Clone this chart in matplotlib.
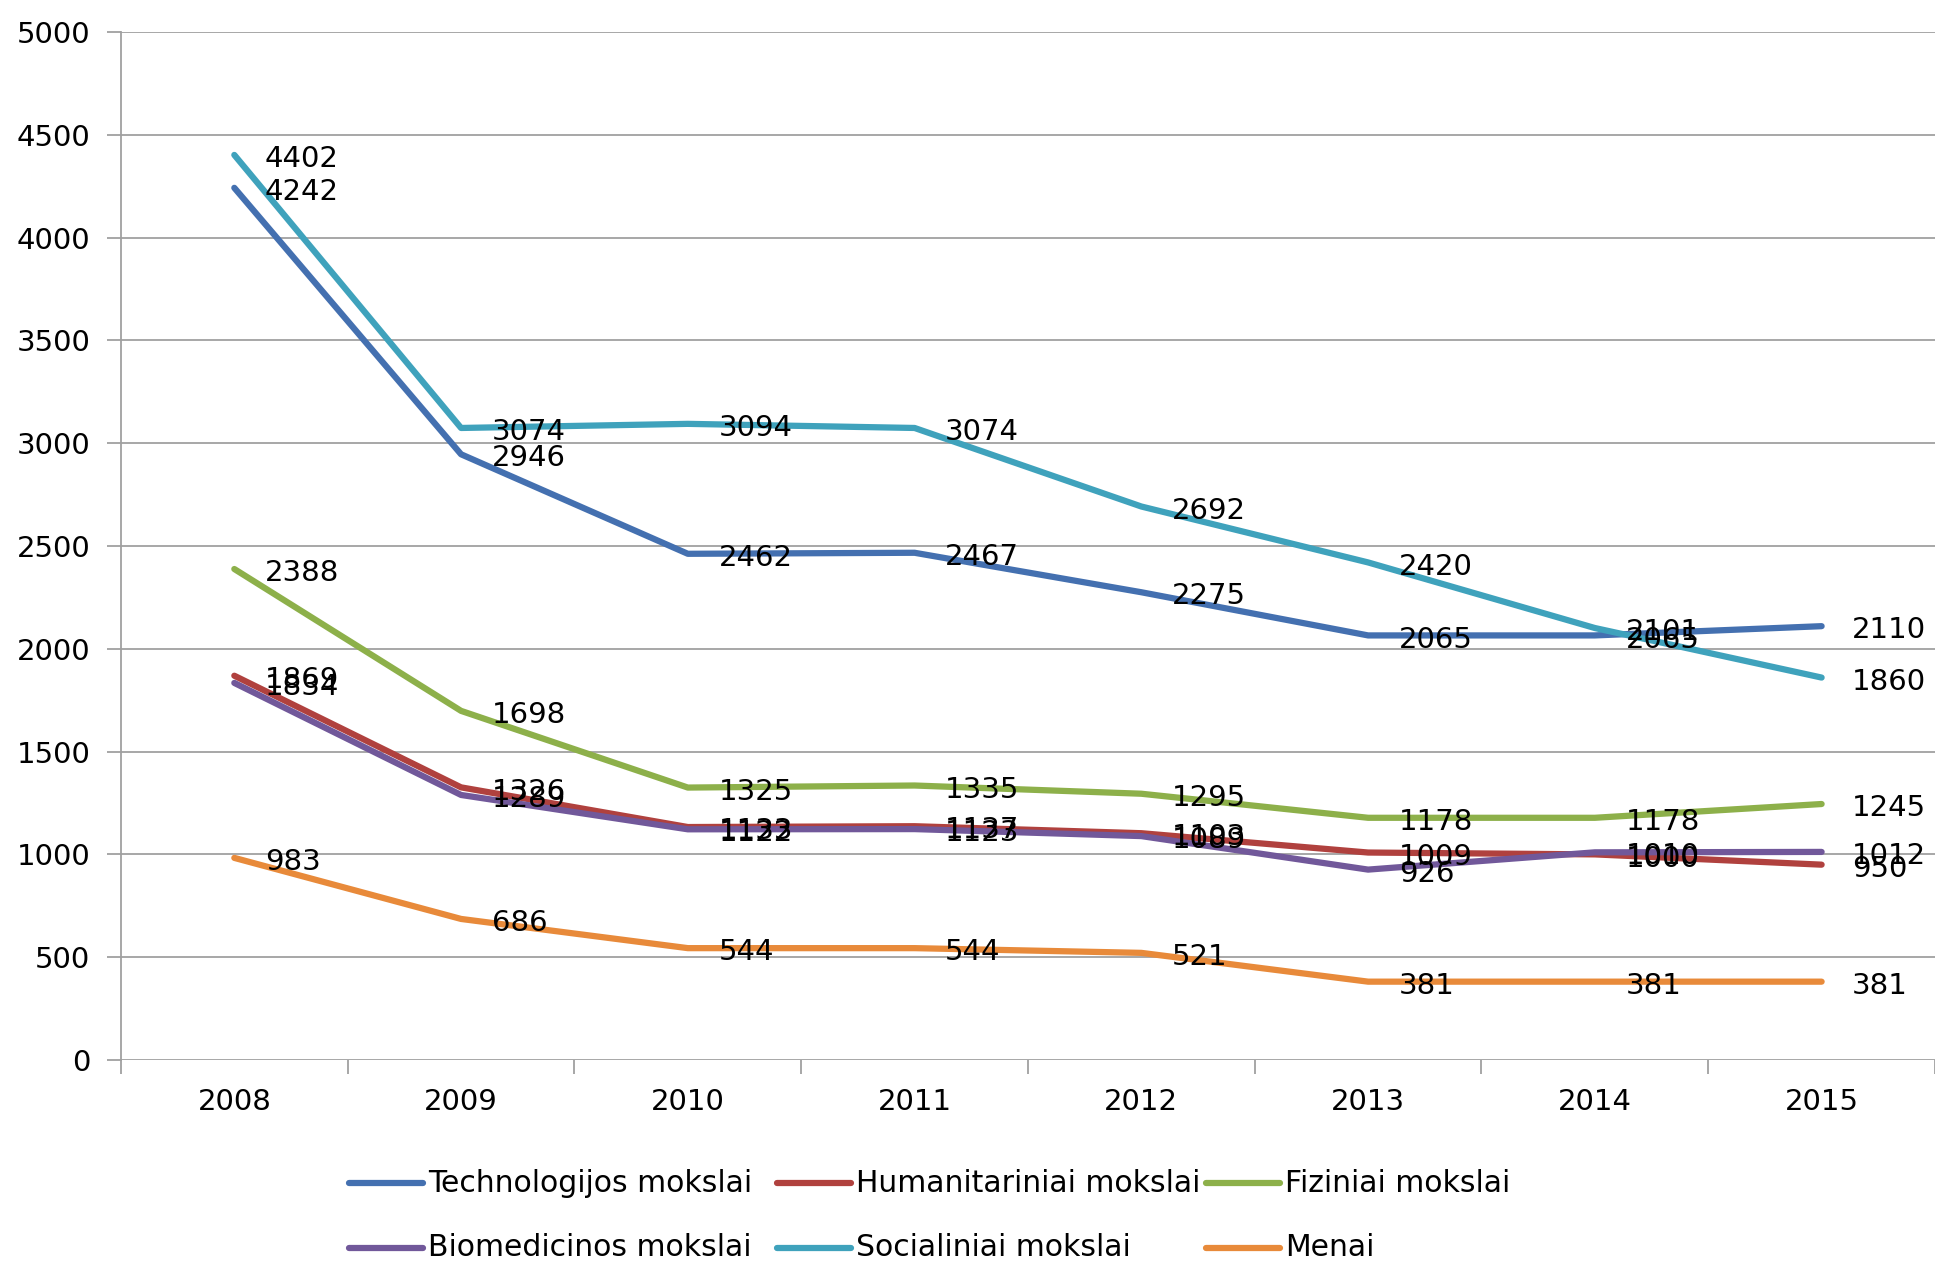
import numpy as np
import matplotlib.pyplot as plt
from matplotlib.lines import Line2D

# Metai ir serijos
metai = ['2008', '2009', '2010', '2011', '2012', '2013', '2014', '2015']
technologijos = [4242, 2946, 2462, 2467, 2275, 2065, 2065, 2110]
humanitariniai = [1869, 1326, 1133, 1137, 1103, 1009, 1000, 950]
fiziniai = [2388, 1698, 1325, 1335, 1295, 1178, 1178, 1245]
biomedicinos = [1834, 1289, 1122, 1123, 1089, 926, 1010, 1012]
socialiniai = [4402, 3074, 3094, 3074, 2692, 2420, 2101, 1860]
menai = [983, 686, 544, 544, 521, 381, 381, 381]

serijos = [
    ('Technologijos mokslai', technologijos, '#4470B0'),
    ('Humanitariniai mokslai', humanitariniai, '#B0413E'),
    ('Fiziniai mokslai', fiziniai, '#8DB04A'),
    ('Biomedicinos mokslai', biomedicinos, '#71589A'),
    ('Socialiniai mokslai', socialiniai, '#3FA2BC'),
    ('Menai', menai, '#E88A3A'),
]

fig = plt.figure(figsize=(19.35, 12.64), dpi=100)
ax = fig.add_axes([0.0625, 0.1614, 0.9375, 0.8133])
x = np.arange(len(metai))

for i in range(0, 5001, 500):
    ax.axhline(i, color='#A0A0A0', lw=1.3, zorder=0)

for nm, vals, col in serijos:
    ax.plot(x, vals, color=col, lw=4.5, solid_capstyle='round', zorder=2)
    for xi, v in zip(x, vals):
        ax.annotate(str(v), (xi, v), xytext=(22, -3), textcoords='offset points',
                    fontsize=21, va='center', ha='left', zorder=3)

ax.set_xlim(-0.5, 7.5)
ax.set_ylim(0, 5000)
ax.set_yticks(range(0, 5001, 500))
ax.set_yticklabels([str(v) for v in range(0, 5001, 500)], fontsize=21)
ax.set_xticks(x)
ax.set_xticklabels(metai, fontsize=21)
ax.set_xticks(np.arange(-0.5, 8, 1), minor=True)
ax.tick_params(axis='x', which='major', length=0, pad=20)
ax.tick_params(axis='x', which='minor', length=10, color='#A0A0A0', width=1.3)
ax.tick_params(axis='y', length=10, color='#A0A0A0', width=1.3, pad=12)
for s in ['top', 'right', 'bottom']:
    ax.spines[s].set_visible(False)
ax.spines['left'].set_color('#A0A0A0')
ax.spines['left'].set_linewidth(1.3)

# Legenda rankiniu budu
pozicijos = [(349, 1183), (777, 1183), (1206, 1183), (349, 1248), (777, 1248), (1206, 1248)]
W, H = 1935, 1264
for (nm, vals, col), (px, py) in zip(serijos, pozicijos):
    fig.add_artist(Line2D([px / W, (px + 74) / W], [1 - py / H, 1 - py / H], color=col, lw=4.5,
                          solid_capstyle='round'))
    fig.text((px + 79) / W, 1 - py / H, nm, fontsize=21.5, va='center', ha='left',
             family=['Liberation Sans Narrow', 'DejaVu Sans'])

fig.savefig('out.png', dpi=100)
